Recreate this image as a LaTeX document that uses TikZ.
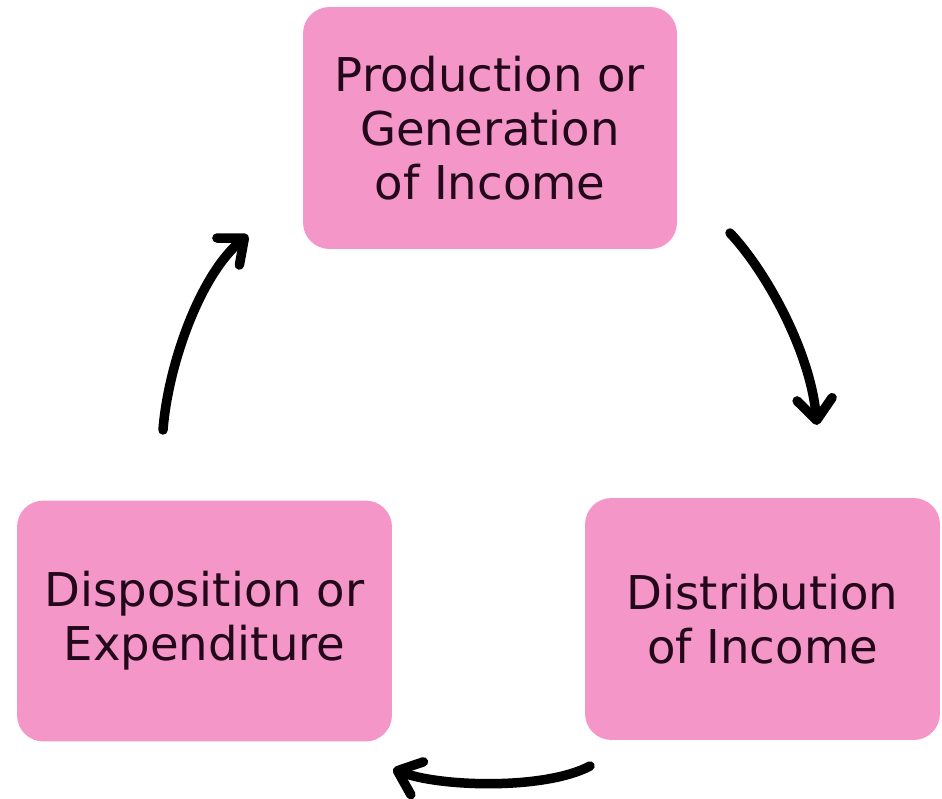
\documentclass[tikz,border=0pt]{standalone}
\usepackage{fontspec}
\setmainfont{DejaVu Sans}
\usetikzlibrary{arrows.meta}
\definecolor{stagepink}{HTML}{F596C8}
\definecolor{stagetext}{HTML}{22081A}
\tikzstyle{stagebox} = [rectangle, rounded corners=15pt, fill=stagepink, text=stagetext, align=center, inner sep=0pt, font=\fontsize{26.5pt}{30.6pt}\selectfont]
\tikzstyle{cyclearrow} = [line width=5.4pt, line cap=round, -{Straight Barb[length=12pt,width=20pt,round]}]

\begin{document}
\begin{tikzpicture}[x=0.02cm, y=-0.02cm]
\useasboundingbox (0,0) rectangle (942,798);

% the three stages
\node [stagebox, minimum width=7.48cm, minimum height=4.84cm] (prod) at (490,128) {Production or\\Generation\\of Income};
\node [stagebox, minimum width=7.1cm, minimum height=4.84cm] (dist) at (762.5,619) {Distribution\\of Income};
\node [stagebox, minimum width=7.5cm, minimum height=4.82cm] (disp) at (204.5,621) {Disposition or\\Expenditure};

% free ends of the arrows
\coordinate (prodout) at (730,233);
\coordinate (distin) at (817,425);
\coordinate (distout) at (590,766);
\coordinate (dispin) at (393,769);
\coordinate (dispout) at (163,430);
\coordinate (prodin) at (248,235);

\draw [cyclearrow] (prodout) .. controls (765,270) and (810,350) .. (distin);
\draw [cyclearrow] (distout) .. controls (545,790) and (440,787) .. (dispin);
\draw [cyclearrow] (dispout) .. controls (168,365) and (200,275) .. (prodin);
\end{tikzpicture}
\end{document}
